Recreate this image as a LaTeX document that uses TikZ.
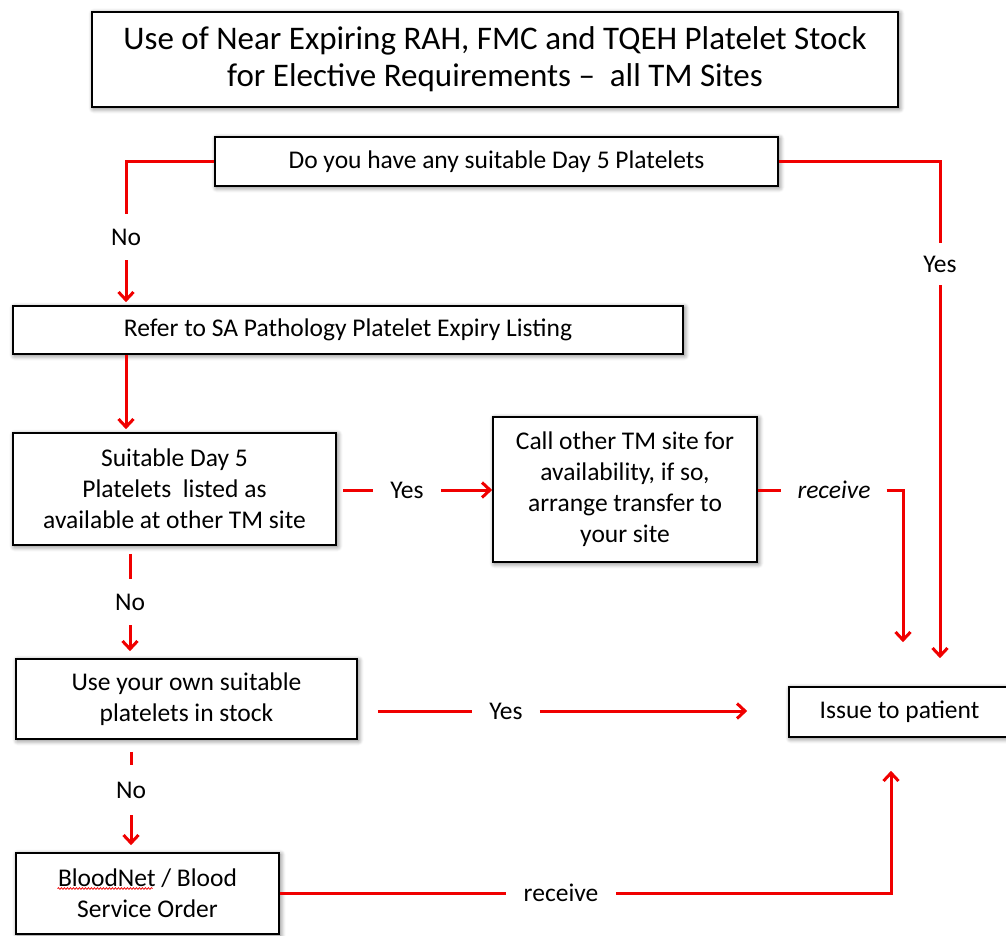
\documentclass[tikz,border=0pt]{standalone}
\usepackage{fontspec}
\setmainfont{Carlito}
\usetikzlibrary{arrows.meta,shadows.blur,calc,decorations.pathmorphing}
\definecolor{lred}{RGB}{240,0,0}
\tikzset{
  box/.style={draw=black,line width=1.6pt,fill=white,align=center,inner sep=0pt,
    blur shadow={shadow xshift=1.5pt,shadow yshift=-1.5pt,shadow blur steps=6,shadow blur radius=5pt,shadow opacity=55},
    font=\fontsize{25.5}{31}\selectfont},
  lbl/.style={inner xsep=20pt,inner ysep=0pt,font=\fontsize{25.5}{28}\selectfont},
  vlbl/.style={inner sep=0pt,minimum height=46pt,font=\fontsize{25.5}{28}\selectfont},
  con/.style={draw=lred,line width=3pt},
  arr/.style={con,-{Straight Barb[length=8pt,width=15pt,line width=3pt]}},
  wavy/.style={draw=lred,line width=0.7pt,decorate,decoration={snake,segment length=3pt,amplitude=0.9pt}},
}
\begin{document}
\begin{tikzpicture}[x=1pt,y=-1pt]
\useasboundingbox (0,0) rectangle (1006,936);
% boxes
\node[box,minimum width=806pt,minimum height=95pt,font=\fontsize{33}{37}\selectfont] (title) at (495,59.5)
  {Use of Near Expiring RAH, FMC and TQEH Platelet Stock\\for Elective Requirements --\ \ all TM Sites};
\node[box,minimum width=563pt,minimum height=49pt] (do) at (496.5,161.5) {Do you have any suitable Day 5 Platelets};
\node[box,minimum width=670pt,minimum height=48pt] (refer) at (348,330) {Refer to SA Pathology Platelet Expiry Listing};
\node[box,minimum width=323pt,minimum height=112pt] (suit) at (174.5,489) {Suitable Day 5\\Platelets\ \ listed as\\available at other TM site};
\node[box,minimum width=264pt,minimum height=145pt] (call) at (625,489.5) {Call other TM site for\\availability, if so,\\arrange transfer to\\your site};
\node[box,minimum width=341pt,minimum height=80pt] (use) at (186.5,699) {Use your own suitable\\platelets in stock};
\node[box,minimum width=221pt,minimum height=50pt] (issue) at (899.5,712) {Issue to patient};
\node[box,minimum width=263pt,minimum height=81pt] (blood) at (147.5,893.5) {BloodNet / Blood\\Service Order};
\draw[wavy] ($(blood.center)+(-90,-5)$) -- ($(blood.center)+(5,-5)$);
% labels
\node[vlbl] (no1) at (126,237) {No};
\node[vlbl,minimum height=42pt] (yes1) at (940,264) {Yes};
\node[lbl,inner xsep=17pt] (yes2) at (407,490) {Yes};
\node[lbl,inner xsep=16pt] (rec1) at (834,490) {\itshape receive};
\node[vlbl] (no2) at (130,602) {No};
\node[vlbl,minimum height=50pt] (no3) at (131,790) {No};
\node[lbl,inner xsep=17pt] (yes3) at (506,711) {Yes};
\node[lbl,inner xsep=18pt] (rec2) at (561,893) {receive};
% connectors
\draw[con] (do.west) -| (no1.north);
\draw[arr,shorten >=3pt] (no1.south) -- (no1.south |- refer.north);
\draw[con] (do.east) -| (yes1.north);
\draw[arr,shorten >=28pt] (yes1.south) -- (yes1.south |- issue.north);
\draw[arr,shorten >=3pt] (no1.south |- refer.south) -- (no1.south |- suit.north);
\draw[con,shorten <=6pt] (suit.east |- yes2) -- (yes2.west);
\draw[arr] (yes2.east) -- (yes2.east -| call.west);
\draw[con] (call.east |- rec1) -- (rec1.west);
\draw[arr,shorten >=44pt] (rec1.east) -| ($(issue.north)+(3.5,0)$);
\draw[con,shorten <=8pt] (no2.north |- suit.south) -- (no2.north);
\draw[arr,shorten >=7pt] (no2.south) -- (no2.south |- use.north);
\draw[con,shorten <=20pt] (use.east |- yes3) -- (yes3.west);
\draw[arr,shorten >=41pt] (yes3.east) -- (yes3.east -| issue.west);
\draw[con,shorten <=12pt] (no3.north |- use.south) -- (no3.north);
\draw[arr,shorten >=7pt] (no3.south) -- (no3.south |- blood.north);
\draw[con] (blood.east |- rec2) -- (rec2.west);
\draw[arr,shorten >=33pt] (rec2.east) -| ($(issue.south)+(-8.5,0)$);
\end{tikzpicture}
\end{document}
